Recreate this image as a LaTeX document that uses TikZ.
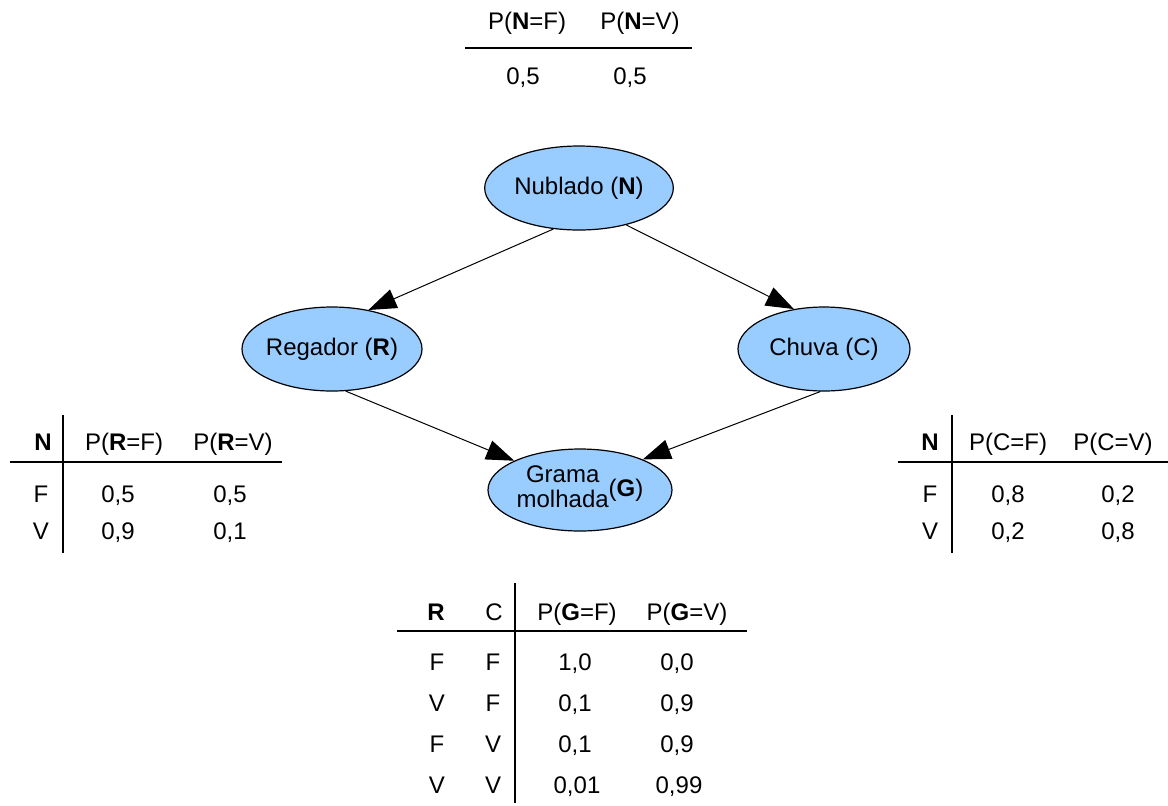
\documentclass[tikz,border=0pt]{standalone}
\usepackage{fontspec}
\setmainfont{Liberation Sans}
\usetikzlibrary{arrows.meta,shapes.geometric}
\definecolor{nodeblue}{RGB}{153,204,255}
\tikzset{
  myvar/.style = {ellipse, draw, fill=nodeblue, line width=0.6pt, minimum width=92pt, minimum height=42pt, inner sep=1pt},
  myarrow/.style = {-{Triangle[length=14pt,width=10pt]}, line width=0.5pt},
  mycell/.style = {inner sep=0pt, text height=8.6pt, text depth=1.5pt},
  myrule/.style = {line width=0.6pt},
}

\begin{document}
\begin{tikzpicture}[x=0.5pt, y=-0.5pt, font=\fontsize{12}{14}\selectfont]
\useasboundingbox (0,0) rectangle (1168,805);
% network
\node[myvar] (N) at (579,188) {Nublado (\textbf{N})};
\node[myvar, minimum width=90pt, inner xsep=-3pt] (R) at (332,349) {Regador (\textbf{R})};
\node[myvar, minimum width=86pt] (C) at (824,349) {Chuva (C)};
\node[myvar, minimum height=41pt, inner sep=0pt] (G) at (580,490)
  {\renewcommand{\arraystretch}{0.8}\begin{tabular}{@{}c@{}}Grama\\molhada\end{tabular}(\textbf{G})};
\draw[myarrow] (N.238) -- (R.47);
\draw[myarrow] (N.322) -- (C.127);
\draw[myarrow] (R.288) -- (G.156);
\draw[myarrow] (C.265) -- (G.26);
% P(N)
\node[mycell] (pn1) at (527,22) {P(\textbf{N}=F)};
\node[mycell] (pn2) at (640,22) {P(\textbf{N}=V)};
\node[mycell] (vn1) at (523,77) {0,5};
\node[mycell] (vn2) at (630,77) {0,5};
\draw[myrule] (465,48) -- (692,48);
% P(R|N)
\node[mycell] (rh0) at (43,443) {\textbf{N}};
\node[mycell] (rh1) at (124,443) {P(\textbf{R}=F)};
\node[mycell] (rh2) at (233,443) {P(\textbf{R}=V)};
\node[mycell] (ra0) at (41,495) {F};
\node[mycell] (ra1) at (118,495) {0,5};
\node[mycell] (ra2) at (230,495) {0,5};
\node[mycell] (rb0) at (41,532) {V};
\node[mycell] (rb1) at (118,532) {0,9};
\node[mycell] (rb2) at (230,532) {0,1};
\draw[myrule] (63,415) -- (63,553);
\draw[myrule] (10,462) -- (282,462);
% P(C|N)
\node[mycell] (ch0) at (930,443) {\textbf{N}};
\node[mycell] (ch1) at (1008,443) {P(C=F)};
\node[mycell] (ch2) at (1113,443) {P(C=V)};
\node[mycell] (ca0) at (930,495) {F};
\node[mycell] (ca1) at (1008,495) {0,8};
\node[mycell] (ca2) at (1118,495) {0,2};
\node[mycell] (cb0) at (930,532) {V};
\node[mycell] (cb1) at (1008,532) {0,2};
\node[mycell] (cb2) at (1118,532) {0,8};
\draw[myrule] (952,415) -- (952,553);
\draw[myrule] (898,462) -- (1168,462);
% P(G|R,C)
\node[mycell] (gh0) at (436,613) {\textbf{R}};
\node[mycell] (gh1) at (494,613) {C};
\node[mycell] (gh2) at (577,613) {P(\textbf{G}=F)};
\node[mycell] (gh3) at (687,613) {P(\textbf{G}=V)};
\node[mycell] (ga0) at (437,663) {F};
\node[mycell] (ga1) at (493,663) {F};
\node[mycell] (ga2) at (575,663) {1,0};
\node[mycell] (ga3) at (677,663) {0,0};
\node[mycell] (gb0) at (437,704) {V};
\node[mycell] (gb1) at (493,704) {F};
\node[mycell] (gb2) at (575,704) {0,1};
\node[mycell] (gb3) at (677,704) {0,9};
\node[mycell] (gc0) at (437,745) {F};
\node[mycell] (gc1) at (493,745) {V};
\node[mycell] (gc2) at (575,745) {0,1};
\node[mycell] (gc3) at (677,745) {0,9};
\node[mycell] (gd0) at (437,786) {V};
\node[mycell] (gd1) at (493,786) {V};
\node[mycell] (gd2) at (577,786) {0,01};
\node[mycell] (gd3) at (679,786) {0,99};
\draw[myrule] (515,583) -- (515,803);
\draw[myrule] (397,631) -- (747,631);
\end{tikzpicture}
\end{document}
